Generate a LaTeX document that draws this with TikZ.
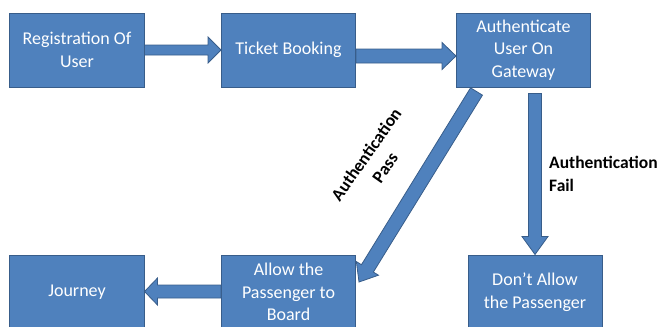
\documentclass[tikz,border=0pt]{standalone}
\usepackage{fontspec}
\setmainfont{Carlito}
\usetikzlibrary{calc}
\definecolor{boxfill}{HTML}{4F81BD}
\definecolor{boxline}{HTML}{385D8A}
\tikzset{
  flowbox/.style={draw=boxline, fill=boxfill, line width=1bp, minimum width=134bp,
    minimum height=74bp, text=white, font=\fontsize{18bp}{22.5bp}\selectfont,
    align=center, inner sep=0pt},
  blockarrow/.style={draw=boxline, fill=boxfill, line width=0.8bp, line join=miter},
  lbl/.style={font=\fontsize{17.5bp}{23bp}\selectfont\bfseries, text=black, inner sep=0pt}
}
% #1 from, #2 to, #3 shaft half width, #4 head half width, #5 head length
\newcommand\blockarr[5]{%
  \coordinate (hb) at ($(#2)!#5!(#1)$);
  \path[blockarrow] ($(#1)!#3!90:(#2)$) -- ($(hb)!#3!90:(#2)$) -- ($(hb)!#4!90:(#2)$)
    -- (#2) -- ($(hb)!#4!-90:(#2)$) -- ($(hb)!#3!-90:(#2)$) -- ($(#1)!#3!-90:(#2)$) -- cycle;
}
\begin{document}
\begin{tikzpicture}[x=1bp, y=-1bp]
\useasboundingbox (0,0) rectangle (662,326);
\clip (0,0) rectangle (662,326);
\node[flowbox] (reg) at (77,50) {Registration Of\\User};
\node[flowbox] (tb) at (288.5,50) {Ticket Booking};
\node[flowbox] (auth) at (523.5,50) {Authenticate\\User On\\Gateway};
\node[flowbox] (jour) at (77,292) {Journey};
\node[flowbox] (allow) at (288.5,292) {Allow the\\Passenger to\\Board};
\node[flowbox] (na) at (535,292) {Don’t Allow\\the Passenger};

\coordinate (a2s) at ($(tb.east)+(0,6)$);
\coordinate (a2e) at ($(auth.west)+(0,6)$);
\coordinate (a3s) at ($(na.north |- auth.south)+(0,6)$);
\coordinate (a4s) at ($(auth.south)+(-47,4)$);
\coordinate (a4e) at ($(allow.east)+(3,-10)$);
\coordinate (a5s) at ($(allow.west)+(0,-0.5)$);
\coordinate (a5e) at ($(jour.east)+(0,-0.5)$);

\blockarr{reg.east}{tb.west}{5bp}{13bp}{13bp}
\blockarr{a2s}{a2e}{7bp}{13.5bp}{14bp}
\blockarr{a3s}{na.north}{6.5bp}{13bp}{18bp}
\blockarr{a4s}{a4e}{7bp}{13bp}{16bp}
\blockarr{a5s}{a5e}{6.5bp}{13.5bp}{13bp}

\node[lbl, align=center, rotate=55] (pass) at (375.5,161) {Authentication\\Pass};
\node[lbl, align=left, anchor=west] (fail) at (549,173.5) {Authentication\\Fail};
\end{tikzpicture}
\end{document}
